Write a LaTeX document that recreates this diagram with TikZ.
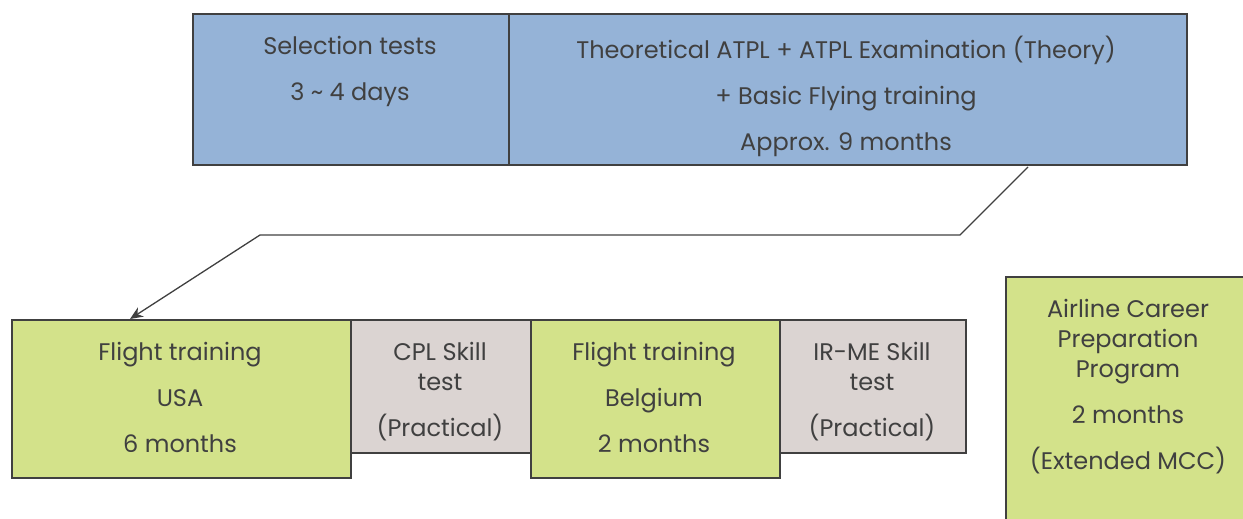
\documentclass[tikz,border=0pt]{standalone}
\usepackage{fontspec}
\setmainfont{Poppins}
\usetikzlibrary{calc,arrows.meta}
\definecolor{bluef}{RGB}{149,179,215}
\definecolor{greenf}{RGB}{211,226,138}
\definecolor{grayf}{RGB}{219,212,210}
\definecolor{edge}{RGB}{64,64,64}
\definecolor{txt}{RGB}{64,64,64}
\tikzset{
  box/.style={draw=edge, line width=1.6pt, inner sep=0pt, anchor=north west},
  bluebox/.style={box, fill=bluef},
  greenbox/.style={box, fill=greenf},
  graybox/.style={box, fill=grayf},
  lbl/.style={text=txt, align=center, inner sep=0pt, anchor=north, font=\fontsize{24}{30}\selectfont},
  conn/.style={draw=edge, line width=1.3pt}
}
\begin{document}
\begin{tikzpicture}[x=1pt,y=-1pt]
\useasboundingbox (0,0) rectangle (1243,519);
% top boxes
\node[bluebox, minimum width=316pt, minimum height=151pt] (sel) at (192,13) {};
\node[bluebox, minimum width=678pt, minimum height=151pt] (theo) at (508,13) {};
% bottom boxes
\node[greenbox, minimum width=339pt, minimum height=158pt] (fus) at (11,319) {};
\node[graybox, minimum width=180pt, minimum height=133pt] (cpl) at (350,319) {};
\node[greenbox, minimum width=249pt, minimum height=158pt] (fbe) at (530,319) {};
\node[graybox, minimum width=186pt, minimum height=133pt] (irme) at (779,319) {};
\node[greenbox, minimum width=250pt, minimum height=260pt] (acp) at (1005,276) {};
% labels
\node[lbl] (tsel) at (350,36) {Selection tests\\[16pt]3 \textasciitilde{} 4 days};
\node[lbl] (ttheo) at (846,36) {Theoretical ATPL + ATPL Examination (Theory)\\[16pt]+ Basic Flying training\\[16pt]Approx. 9 months};
\node[lbl] (tfus) at (180,342) {Flight training\\[16pt]USA\\[16pt]6 months};
\node[lbl] (tcpl) at (440,342) {CPL Skill\\test\\[16pt](Practical)};
\node[lbl] (tfbe) at (654,342) {Flight training\\[16pt]Belgium\\[16pt]2 months};
\node[lbl] (tirme) at (872,342) {IR-ME Skill\\test\\[16pt](Practical)};
\node[lbl] (tacp) at (1128,299) {Airline Career\\Preparation\\Program\\[16pt]2 months\\[16pt](Extended MCC)};
% connector
\coordinate (c0) at (1028,167);
\coordinate (c1) at (960,235);
\coordinate (c2) at (260,235);
\draw[conn, -{Stealth[length=13pt,width=11pt]}] (c0) -- (c1) -- (c2) -- ($(fus.north west)+(119,0)$);
\end{tikzpicture}
\end{document}
